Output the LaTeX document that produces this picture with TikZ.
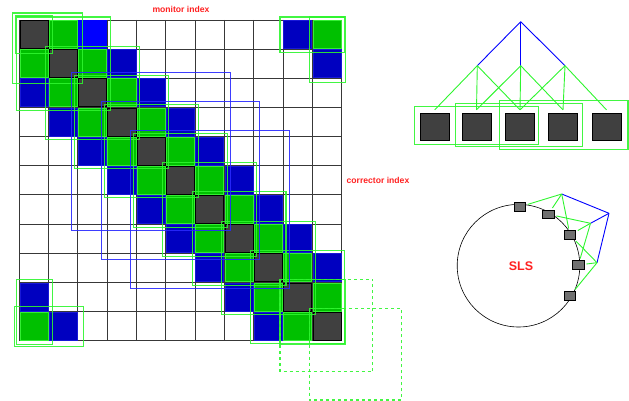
\documentclass[tikz,border=0pt]{standalone}
\usepackage{fontspec}
\setmainfont{Liberation Sans}
\definecolor{cdark}{HTML}{404040}
\definecolor{cgreen}{HTML}{00C000}
\definecolor{lgreen}{HTML}{33EE33}
\definecolor{bgreen}{HTML}{2EF52E}
\definecolor{cblue}{HTML}{0000C0}
\definecolor{lblue}{HTML}{1818D8}
\definecolor{rblue}{HTML}{2828FF}
\definecolor{cred}{HTML}{FF2020}
\definecolor{cgray}{HTML}{707070}
\begin{document}
\begin{tikzpicture}[x=1pt,y=-1pt,
  cellline/.style={line width=0.8pt},
  gridline/.style={draw=black!78,line width=0.9pt},
  blockbox/.style={draw=bgreen,line width=1.1pt,opacity=0.9},
  bigbox/.style={draw=rblue,line width=1.0pt,opacity=0.9},
  redtext/.style={text=cred,font=\bfseries\fontsize{8.6}{10}\selectfont,inner sep=0pt},
  gline/.style={draw=bgreen,line width=0.9pt},
  bline/.style={draw=blue,line width=0.9pt},
  bpm/.style={draw=black,fill=cdark,minimum width=29pt,minimum height=27.5pt,inner sep=0pt,line width=0.8pt},
  ringbpm/.style={draw=black,fill=cgray,minimum width=11.5pt,minimum height=8.5pt,inner sep=0pt,line width=0.6pt}
]
\useasboundingbox (0,0) rectangle (629,401);
\def\gx{19.3}\def\gy{20}\def\cw{29.3}\def\ch{29.15}
\newcommand\blk[7]{\draw[#1] ({\gx+(#4)*\cw-(#6)},{\gy+(#2)*\ch-(#6)}) rectangle ({\gx+((#5)+1)*\cw+(#7)},{\gy+((#3)+1)*\ch+(#7)});}
% grid
\foreach \i in {0,...,11}{
  \draw[gridline] ({\gx+\i*\cw},\gy) -- ({\gx+\i*\cw},{\gy+11*\ch});
  \draw[gridline] (\gx,{\gy+\i*\ch}) -- ({\gx+11*\cw},{\gy+\i*\ch});
}
% cells
\foreach \k in {0,...,10}{
  \foreach \d/\fc/\dc in {-2/cblue/lblue,2/cblue/lblue,-1/cgreen/lgreen,1/cgreen/lgreen,0/cdark/black}{
    \pgfmathtruncatemacro\cc{mod(\k+\d+11,11)}
    \path[fill=\fc,draw=\dc,cellline] ({\gx+\cc*\cw+0.6},{\gy+\k*\ch+0.6}) rectangle ++({\cw-1.2},{\ch-1.2});
  }
}
\path[fill=blue,draw=blue,cellline] ({\gx+2*\cw+0.6},{\gy+0.6}) rectangle ++({\cw-1.2},{\ch-1.2});
% green 3x3 blocks
\foreach \k in {1,...,9}{\blk{blockbox}{\k-1}{\k+1}{\k-1}{\k+1}{3}{3}}
\blk{blockbox}{0}{1}{0}{1}{7}{5}
\blk{blockbox}{0}{1}{10}{10}{3}{4}
\blk{blockbox}{10}{10}{0}{1}{5}{6}
\blk{blockbox}{10}{10}{10}{10}{3}{3}
\blk{blockbox}{9}{10}{9}{10}{3}{4}
\blk{blockbox}{9}{10}{0}{0}{3}{4}
\blk{blockbox}{0}{0}{9}{10}{3}{3}
\blk{blockbox}{0}{0}{0}{0}{4}{4}
\blk{blockbox,dashed}{9}{11}{9}{11}{3}{2}
\blk{blockbox,dashed}{10}{12}{10}{12}{3}{1}
% blue 5x5 blocks
\foreach \k in {4,5,6}{\blk{bigbox}{\k-2}{\k+2}{\k-2}{\k+2}{6}{6}}
% labels
\node[redtext] (mon) at (181,9.5) {monitor index};
\node[redtext] (cor) at (378,180.5) {corrector index};
% tree
\node[bpm] (t1) at (434.7,127) {};
\node[bpm] (t2) at (476.5,127) {};
\node[bpm] (t3) at (520,127) {};
\node[bpm] (t4) at (563,127) {};
\node[bpm] (t5) at (606.5,127) {};
\coordinate (root) at (520.7,21.7);
\coordinate (m1) at (477.3,65.7);
\coordinate (m2) at (520.7,65.7);
\coordinate (m3) at (565,65.7);
\draw[bline] (root) -- (m1);
\draw[bline,line width=1.4pt] (root) -- (m2);
\draw[bline] (root) -- (m3);
\foreach \m/\a/\b/\c in {m1/t1/t2/t3,m2/t2/t3/t4,m3/t3/t4/t5}{
  \draw[gline] (\m) -- ([yshift=3pt]\a.north);
  \draw[gline] (\m) -- ([yshift=3pt]\b.north);
  \draw[gline] (\m) -- ([yshift=3pt]\c.north);
}
\draw[blockbox] ([shift={(-5pt,6.6pt)}]t1.north west) rectangle ([shift={(3.4pt,-3pt)}]t3.south east);
\draw[blockbox] ([shift={(-6pt,9.3pt)}]t2.north west) rectangle ([shift={(5pt,-5.7pt)}]t4.south east);
\draw[blockbox] ([shift={(-5.7pt,12.6pt)}]t3.north west) rectangle ([shift={(6.6pt,-8.3pt)}]t5.south east);
% ring
\node[circle,draw=black,line width=0.6pt,minimum size=122.6pt,inner sep=0pt] (ring) at (518.5,265.7) {};
\node[text=cred,font=\bfseries\fontsize{12.5}{14}\selectfont,inner sep=0pt] (sls) at (521,266.5) {SLS};
\node[ringbpm] (c1) at (519.8,206.8) {};
\node[ringbpm] (c2) at (548.3,214.2) {};
\node[ringbpm] (c3) at (570,235) {};
\node[ringbpm] (c4) at (578.3,265) {};
\node[ringbpm] (c5) at (570,295.7) {};
\coordinate (p1) at (561.7,194);
\coordinate (p2) at (590.5,223.3);
\coordinate (p3) at (597,262.7);
\coordinate (q) at (609,213.3);
\draw[bline] (p1) -- (q);
\draw[bline] (q) -- (p2);
\draw[bline] (q) -- (p3);
\foreach \p/\a/\b/\c in {p1/c1/c2/c3,p2/c2/c3/c4,p3/c3/c4/c5}{
  \draw[gline,shorten >=2pt] (\p) -- (\a);
  \draw[gline,shorten >=2pt] (\p) -- (\b);
  \draw[gline,shorten >=2pt] (\p) -- (\c);
}
\end{tikzpicture}
\end{document}
